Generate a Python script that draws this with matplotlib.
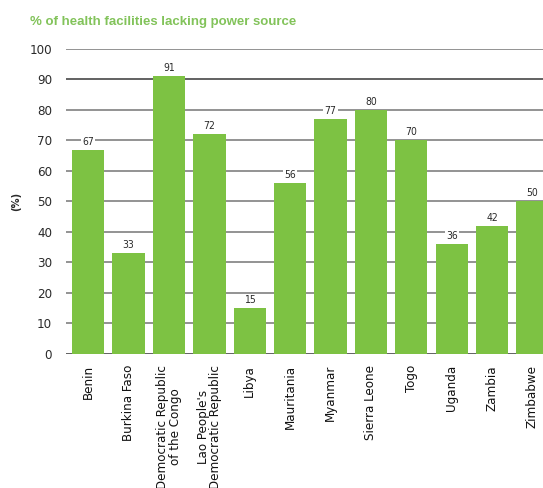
import matplotlib
matplotlib.use("Agg")
import matplotlib.pyplot as plt
import numpy as np

countries = ["Benin", "Burkina Faso", "Democratic Republic\nof the Congo",
             "Lao People's\nDemocratic Republic", "Libya", "Mauritania",
             "Myanmar", "Sierra Leone", "Togo", "Uganda", "Zambia", "Zimbabwe"]
lacking_power = [67, 33, 91, 72, 15, 56, 77, 80, 70, 36, 42, 50]
y_ticks = [0, 10, 20, 30, 40, 50, 60, 70, 80, 90, 100]

GREEN = "#7dc243"
TITLE_GREEN = "#82c35a"
TEXT = "#2a2a2a"

plt.rcParams['font.family'] = ['DejaVu Sans']
plt.rcParams['font.stretch'] = 'condensed'

fig = plt.figure(figsize=(5.43, 4.88), dpi=100)
ax = fig.add_axes([0.1215, 0.2746, 0.8785, 0.625])

pos = np.arange(len(countries))
ax.bar(pos, lacking_power, width=0.8, color=GREEN, zorder=2)

# value labels sit on a white box so they cut through the gridlines
for x, v in zip(pos, lacking_power):
    ax.text(x, v + 1.0, str(v), ha='center', va='bottom', fontsize=7.5,
            color=TEXT, zorder=3,
            bbox=dict(boxstyle='square,pad=0.1', fc='white', ec='none'))

ax.set_ylim(0, 100)
ax.set_xlim(-0.55, 11.26)
ax.set_yticks(y_ticks)
ax.set_yticklabels([str(t) for t in y_ticks], fontsize=9.5, color=TEXT)
ax.tick_params(axis='y', length=0, pad=10)
ax.tick_params(axis='x', length=0, pad=8)
ax.set_xticks(pos)
ax.set_xticklabels(countries, rotation=90, va='top', ha='center',
                   fontsize=9.5, color='#111111', linespacing=0.95)

for t in y_ticks:
    ax.axhline(t, color='#555555' if t in (0, 90) else '#8a8a8a',
               lw=1.3, zorder=1)

for s in ax.spines.values():
    s.set_visible(False)

ax.set_ylabel("(%)", fontsize=8, fontweight='bold', color=TEXT, labelpad=6)
fig.text(0.055, 0.955, "% of health facilities lacking power source",
         fontsize=9.5, fontweight='bold', color=TITLE_GREEN, ha='left', va='center',
         family='Liberation Sans', stretch='normal')

fig.savefig("out.png", dpi=100)
